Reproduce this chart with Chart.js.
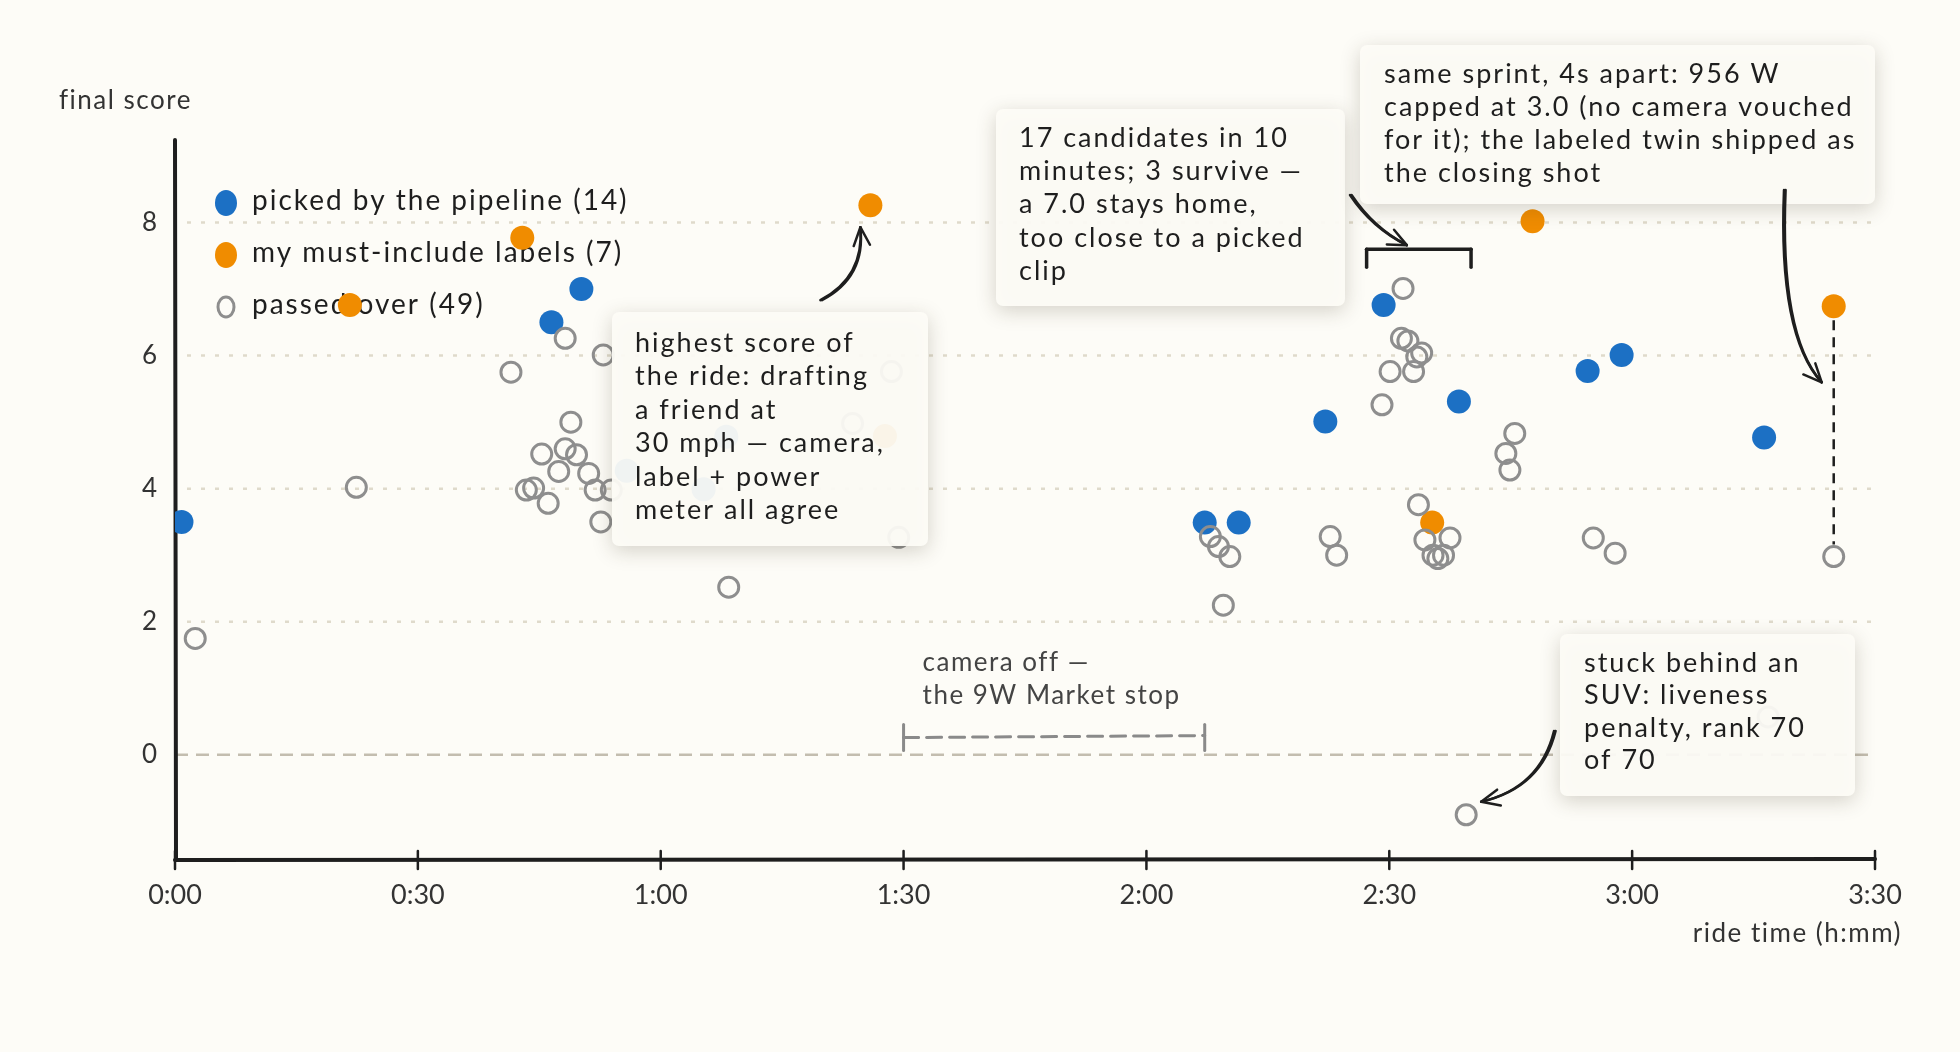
<!DOCTYPE html>
<html>
<head>
<meta charset="utf-8">
<title>final score vs ride time</title>
<script src="https://cdn.jsdelivr.net/npm/chart.js@4.4.1/dist/chart.umd.min.js"></script>
<style>
    html, body { margin: 0; padding: 0; background: #fdfcf7; }
</style>
</head>
<body>
<canvas id="scoreChart" width="1960" height="1052"></canvas>
<script>
// ride time in minutes, final score per clip
const pickedTime  = [0.8, 46.5, 50.2, 55.8, 65.3, 68.1, 127.2, 131.4, 142.1, 149.3, 158.6, 174.5, 178.7, 196.3];
const pickedScore = [3.5, 6.5, 7.0, 4.27, 3.99, 4.78, 3.49, 3.49, 5.01, 6.76, 5.31, 5.77, 6.01, 4.77];

const mustTime  = [21.6, 42.9, 85.9, 87.7, 155.3, 167.7, 204.9];
const mustScore = [6.76, 7.77, 8.26, 4.79, 3.49, 8.02, 6.74];

const passedTime = [2.5, 22.4, 41.5, 48.2, 52.9, 48.9, 45.3, 49.6, 47.4, 51.1, 44.3, 43.4, 46.1, 51.9,
    53.9, 52.6, 48.2, 68.4, 83.7, 88.5, 89.4, 127.9, 128.9, 130.3, 129.5, 142.7, 143.5, 151.7, 151.5,
    152.3, 154.0, 153.4, 150.1, 153.0, 149.1, 153.6, 154.4, 157.5, 155.4, 156.7, 156.0, 159.5, 165.5,
    164.4, 164.9, 175.2, 177.9, 196.8, 204.9];
const passedScore = [1.75, 4.02, 5.75, 6.26, 6.01, 5.0, 4.52, 4.51, 4.26, 4.23, 4.01, 3.98, 3.78, 3.98,
    3.98, 3.5, 4.6, 2.52, 4.98, 5.76, 3.27, 3.28, 3.13, 2.98, 2.25, 3.28, 3.0, 7.01, 6.26,
    6.22, 6.04, 5.98, 5.76, 5.76, 5.26, 3.76, 3.23, 3.26, 3.0, 3.0, 2.95, -0.9, 4.83,
    4.53, 4.28, 3.26, 3.03, 0.57, 2.98];

const xTicks = [0, 30, 60, 90, 120, 150, 180, 210];
const yTicks = [0, 2, 4, 6, 8];

const legendLabels = ['picked by the pipeline (14)', 'my must-include labels (7)', 'passed over (49)'];

const FONT = 'Lato, "Noto Sans", sans-serif';
const INK = '#1e1e1e';
const BLUE = '#1c70c4';
const ORANGE = '#f08c00';
const GRAY = '#8e8e8e';
const PAPER = '#fdfcf7';

function toPoints(xs, ys) {
    return xs.map(function(x, i) { return { x: x, y: ys[i] }; });
}

function clock(m) {
    return Math.floor(m / 60) + ':' + String(m % 60).padStart(2, '0');
}

// notes drawn over the plot
const notes = [
    { x: 612, y: 312, w: 316, h: 234, tx: 635, ty: 343, lh: 33.5,
      lines: ['highest score of', 'the ride: drafting', 'a friend at', '30 mph \u2014 camera,', 'label + power', 'meter all agree'] },
    { x: 996, y: 109, w: 349, h: 197, tx: 1019, ty: 138, lh: 33.3,
      lines: ['17 candidates in 10', 'minutes; 3 survive \u2014', 'a 7.0 stays home,', 'too close to a picked', 'clip'] },
    { x: 1360, y: 45, w: 515, h: 159, tx: 1384, ty: 74, lh: 33,
      lines: ['same sprint, 4s apart: 956 W', 'capped at 3.0 (no camera vouched', 'for it); the labeled twin shipped as', 'the closing shot'] },
    { x: 1560, y: 634, w: 295, h: 162, tx: 1584, ty: 663, lh: 32.5,
      lines: ['stuck behind an', 'SUV: liveness', 'penalty, rank 70', 'of 70'] }
];

function line(c, x1, y1, x2, y2) {
    c.beginPath();
    c.moveTo(x1, y1);
    c.lineTo(x2, y2);
    c.stroke();
}

function arrow(c, x0, y0, cx, cy, x1, y1) {
    for (let k = 0; k < 2; k++) {
        const o = k * 1.6;
        c.beginPath();
        c.moveTo(x0 + o, y0);
        c.quadraticCurveTo(cx + o, cy, x1, y1);
        c.stroke();
    }
    const a = Math.atan2(y1 - cy, x1 - cx);
    const L = 20;
    c.beginPath();
    c.moveTo(x1 - L * Math.cos(a - 0.42), y1 - L * Math.sin(a - 0.42));
    c.lineTo(x1, y1);
    c.lineTo(x1 - L * Math.cos(a + 0.42), y1 - L * Math.sin(a + 0.42));
    c.stroke();
}

const sketchPlugin = {
    id: 'sketch',
    beforeDraw: function(chart) {
        const c = chart.ctx;
        c.save();
        c.fillStyle = PAPER;
        c.fillRect(0, 0, chart.width, chart.height);
        c.restore();
    },
    beforeDatasetsDraw: function(chart) {
        const c = chart.ctx;
        const xs = chart.scales.x;
        const ys = chart.scales.y;
        const area = chart.chartArea;
        c.save();

        // grid
        c.lineWidth = 2.5;
        yTicks.forEach(function(v) {
            const y = ys.getPixelForValue(v);
            if (v === 0) {
                c.strokeStyle = '#c3bdaf';
                c.setLineDash([13, 8]);
                line(c, area.left, y, area.right, y);
            } else {
                c.strokeStyle = '#dfdacb';
                c.setLineDash([4, 10]);
                line(c, area.left + 12, y, area.right, y);
            }
        });
        c.setLineDash([]);

        // axes
        c.strokeStyle = INK;
        c.lineCap = 'round';
        c.lineWidth = 4;
        line(c, area.left, area.top, area.left + 1, area.bottom);
        line(c, area.left, area.bottom, area.right, area.bottom - 1);
        c.lineWidth = 2.5;
        xTicks.forEach(function(v) {
            const x = xs.getPixelForValue(v);
            line(c, x, area.bottom - 9, x, area.bottom + 9);
        });

        // camera-off gap
        const gx0 = xs.getPixelForValue(90);
        const gx1 = xs.getPixelForValue(127.2);
        const gy = ys.getPixelForValue(0.26);
        c.strokeStyle = '#8a8a8a';
        c.lineWidth = 3;
        line(c, gx0, gy - 13, gx0, gy + 13);
        line(c, gx1, gy - 13, gx1, gy + 13);
        c.setLineDash([15, 8]);
        line(c, gx0, gy, gx1, gy - 2);
        c.setLineDash([]);
        c.fillStyle = '#444';
        c.font = '26px ' + FONT;
        c.letterSpacing = '1.5px';
        c.textBaseline = 'middle';
        c.fillText('camera off \u2014', gx0 + 19, ys.getPixelForValue(1.39));
        c.fillText('the 9W Market stop', gx0 + 19, ys.getPixelForValue(0.89));

        // legend (points sit on top of it)
        const colors = [BLUE, ORANGE, GRAY];
        c.font = '28px ' + FONT;
        c.letterSpacing = '2px';
        legendLabels.forEach(function(t, i) {
            const y = 201 + i * 52;
            if (i < 2) {
                c.fillStyle = colors[i];
                c.beginPath();
                c.ellipse(226, y + 2, 11, 13, 0, 0, Math.PI * 2);
                c.fill();
            } else {
                c.strokeStyle = GRAY;
                c.lineWidth = 3;
                c.beginPath();
                c.ellipse(226, y + 2, 8, 10, 0, 0, Math.PI * 2);
                c.stroke();
            }
            c.fillStyle = INK;
            c.fillText(t, 252, y);
        });

        // axis titles
        c.font = '26px ' + FONT;
        c.letterSpacing = '1.5px';
        c.fillStyle = '#333';
        c.textAlign = 'left';
        c.fillText('final score', 59, 101);
        c.textAlign = 'right';
        c.fillText('ride time (h:mm)', 1902, 934);
        c.restore();
    },
    afterDatasetsDraw: function(chart) {
        const c = chart.ctx;
        const xs = chart.scales.x;
        const ys = chart.scales.y;
        const px = function(x, y) { return { x: xs.getPixelForValue(x), y: ys.getPixelForValue(y) }; };
        c.save();

        // twin connector
        const top = px(mustTime[6], mustScore[6]);
        const bot = px(passedTime[48], passedScore[48]);
        c.strokeStyle = INK;
        c.lineWidth = 2.5;
        c.setLineDash([10, 7]);
        line(c, top.x, top.y + 14, bot.x, bot.y - 12);
        c.setLineDash([]);

        // note boxes
        notes.forEach(function(n) {
            c.save();
            c.shadowColor = 'rgba(60, 50, 30, 0.22)';
            c.shadowBlur = 20;
            c.shadowOffsetY = 5;
            c.fillStyle = 'rgba(253, 252, 247, 0.94)';
            c.beginPath();
            c.roundRect(n.x, n.y, n.w, n.h, 7);
            c.fill();
            c.restore();
            c.fillStyle = INK;
            c.font = '27px ' + FONT;
            c.letterSpacing = '2px';
            c.textBaseline = 'middle';
            n.lines.forEach(function(t, i) {
                c.fillText(t, n.tx, n.ty + i * n.lh);
            });
        });
        c.letterSpacing = '0px';

        // arrows
        c.strokeStyle = INK;
        c.lineWidth = 2.5;
        c.lineCap = 'round';
        c.lineJoin = 'round';
        const hi = px(mustTime[2], mustScore[2]);
        arrow(c, hi.x - 50, hi.y + 95, hi.x - 6, hi.y + 72, hi.x - 10, hi.y + 22);

        const bx0 = xs.getPixelForValue(147.2);
        const bx1 = xs.getPixelForValue(160.1);
        const by = ys.getPixelForValue(7.6);
        c.lineWidth = 3.5;
        line(c, bx0, by + 18, bx0, by);
        line(c, bx0, by, bx1, by);
        line(c, bx1, by, bx1, by + 18);
        c.lineWidth = 2.5;
        arrow(c, 1350, 195, 1372, 228, (bx0 + bx1) / 2 - 12, by - 4);

        arrow(c, 1784, 190, 1778, 335, top.x - 12, top.y + 76);

        const low = px(passedTime[41], passedScore[41]);
        arrow(c, 1554, 731, 1540, 788, low.x + 15, low.y - 13);

        c.restore();
    }
};

const ctx = document.getElementById('scoreChart');
new Chart(ctx, {
    type: 'scatter',
    data: {
        datasets: [
            {
                label: legendLabels[2],
                data: toPoints(passedTime, passedScore),
                pointStyle: 'circle',
                pointRadius: 10,
                pointBorderWidth: 3,
                pointBorderColor: GRAY,
                pointBackgroundColor: 'rgba(0,0,0,0)',
                order: 0
            },
            {
                label: legendLabels[1],
                data: toPoints(mustTime, mustScore),
                pointRadius: 12,
                pointBorderWidth: 0,
                pointBackgroundColor: ORANGE,
                order: 1
            },
            {
                label: legendLabels[0],
                data: toPoints(pickedTime, pickedScore),
                pointRadius: 12,
                pointBorderWidth: 0,
                pointBackgroundColor: BLUE,
                order: 2
            }
        ]
    },
    options: {
        responsive: false,
        animation: false,
        events: [],
        layout: { padding: { left: 0, right: 85, top: 140, bottom: 0 } },
        plugins: {
            legend: { display: false },
            tooltip: { enabled: false }
        },
        scales: {
            x: {
                type: 'linear',
                min: 0,
                max: 210,
                afterFit: function(s) { s.height = 192; },
                afterBuildTicks: function(s) { s.ticks = xTicks.map(function(v) { return { value: v }; }); },
                grid: { display: false },
                border: { display: false },
                ticks: {
                    padding: 11,
                    color: '#333',
                    font: { family: FONT, size: 27 },
                    maxRotation: 0,
                    autoSkip: false,
                    callback: function(v) { return clock(v); }
                }
            },
            y: {
                type: 'linear',
                min: -1.58,
                max: 9.24,
                afterFit: function(s) { s.width = 175; },
                afterBuildTicks: function(s) { s.ticks = yTicks.map(function(v) { return { value: v }; }); },
                grid: { display: false },
                border: { display: false },
                ticks: {
                    padding: 10,
                    color: '#333',
                    font: { family: FONT, size: 26 }
                }
            }
        }
    },
    plugins: [sketchPlugin]
});
</script>
</body>
</html>
